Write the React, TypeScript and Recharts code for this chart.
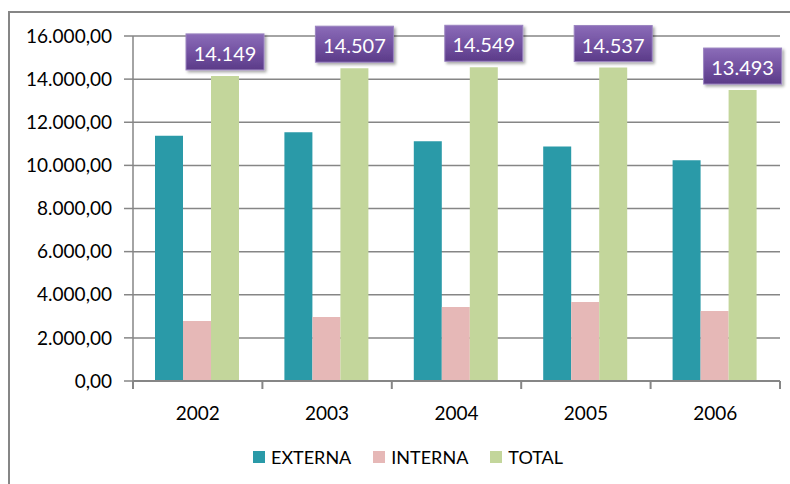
import React from "react";
import {
  BarChart,
  Bar,
  XAxis,
  YAxis,
  CartesianGrid,
  Legend,
  LabelList,
} from "recharts";

const years = ["2002", "2003", "2004", "2005", "2006"];
const externa = [11369, 11537, 11119, 10877, 10243];
const interna = [2780, 2970, 3430, 3660, 3250];
const total = [14149, 14507, 14549, 14537, 13493];
const yTicks = [0, 2000, 4000, 6000, 8000, 10000, 12000, 14000, 16000];

const data = years.map((y, i) => ({
  year: y,
  EXTERNA: externa[i],
  INTERNA: interna[i],
  TOTAL: total[i],
}));

const W = 790;
const H = 484;
const M = { top: 36, right: 10, bottom: 0, left: 0 };
const Y_W = 133;
const X_H = H - 381;
const BAND = (W - M.right - Y_W) / years.length;

const FONT = "Lato, 'Open Sans', sans-serif";
const GREY = "#868686";

const thousands = (n: number) =>
  Math.round(n)
    .toString()
    .replace(/\B(?=(\d{3})+(?!\d))/g, ".");
const fmtY = (v: number) => thousands(v) + ",00";

const XTick = (props: any) => {
  const { x, y, payload, index } = props;
  const half = BAND / 2;
  return (
    <g>
      <line x1={x - half} y1={y} x2={x - half} y2={y + 8} stroke={GREY} strokeWidth={2} />
      {index === years.length - 1 && (
        <line x1={x + half} y1={y} x2={x + half} y2={y + 8} stroke={GREY} strokeWidth={2} />
      )}
      <text
        x={x}
        y={y + 31}
        textAnchor="middle"
        dominantBaseline="central"
        fontFamily={FONT}
        fontSize={19}
        fill="#000"
      >
        {payload.value}
      </text>
    </g>
  );
};

const TotalLabel = (props: any) => {
  const { x, y, width, value } = props;
  const cx = x + width / 2;
  const bw = 78;
  const bh = 36;
  const by = y - 6 - bh;
  return (
    <g>
      <rect
        x={cx - bw / 2}
        y={by}
        width={bw}
        height={bh}
        fill="url(#purpleGrad)"
        stroke="#9b84c0"
        strokeWidth={1}
        filter="url(#boxShadow)"
      />
      <text
        x={cx}
        y={by + bh / 2 + 1}
        textAnchor="middle"
        dominantBaseline="central"
        fontFamily={FONT}
        fontSize={20}
        fill="#ffffff"
      >
        {thousands(value)}
      </text>
    </g>
  );
};

const LegendContent = (props: any) => {
  const { payload } = props;
  return (
    <div style={{ display: "flex", paddingLeft: 253, alignItems: "center", height: 24 }}>
      {(payload || []).map((p: any, i: number) => (
        <div
          key={i}
          style={{ display: "flex", alignItems: "center", marginRight: 22 }}
        >
          <div style={{ width: 12, height: 12, background: p.color, marginRight: 6 }} />
          <span style={{ fontFamily: FONT, fontSize: 18, color: "#000", lineHeight: "24px" }}>
            {p.value}
          </span>
        </div>
      ))}
    </div>
  );
};

export default function App() {
  return (
    <div style={{ position: "absolute", left: 0, top: 0, width: W, height: H, background: "#fff" }}>
      <div
        style={{
          position: "absolute",
          left: 8,
          top: 11,
          width: W,
          height: H,
          borderLeft: `2px solid ${GREY}`,
          borderTop: `2px solid ${GREY}`,
        }}
      />
      <div style={{ position: "absolute", left: 0, top: 0 }}>
        <BarChart
          width={W}
          height={H}
          data={data}
          margin={M}
          barGap={0}
          barCategoryGap={22}
        >
          <defs>
            <linearGradient id="purpleGrad" x1="0" y1="0" x2="0" y2="1">
              <stop offset="0%" stopColor="#8b6cb8" />
              <stop offset="55%" stopColor="#7150a0" />
              <stop offset="100%" stopColor="#5b3b88" />
            </linearGradient>
            <filter id="boxShadow" x="-20%" y="-20%" width="150%" height="160%">
              <feDropShadow dx="2" dy="2" stdDeviation="1.5" floodColor="#000" floodOpacity="0.35" />
            </filter>
          </defs>
          <CartesianGrid vertical={false} stroke={GREY} strokeWidth={1.5} />
          <XAxis
            dataKey="year"
            height={X_H}
            tickLine={false}
            tickSize={0}
            tickMargin={0}
            axisLine={{ stroke: GREY, strokeWidth: 2 }}
            tick={<XTick />}
            interval={0}
          />
          <YAxis
            width={Y_W}
            domain={[0, 16000]}
            ticks={yTicks}
            interval={0}
            tickFormatter={fmtY}
            tickSize={9}
            tickMargin={12}
            tickLine={{ stroke: GREY, strokeWidth: 1.5 }}
            axisLine={{ stroke: GREY, strokeWidth: 1.5 }}
            tick={{ fontFamily: FONT, fontSize: 19, fill: "#000" }}
          />
          <Legend
            layout="horizontal"
            verticalAlign="middle"
            align="center"
            wrapperStyle={{ top: 445, left: 0, width: W }}
            content={<LegendContent />}
          />
          <Bar dataKey="EXTERNA" fill="#2a9aa8" isAnimationActive={false} />
          <Bar dataKey="INTERNA" fill="#e6b8b7" isAnimationActive={false} />
          <Bar dataKey="TOTAL" fill="#c3d69b" isAnimationActive={false}>
            <LabelList dataKey="TOTAL" content={<TotalLabel />} />
          </Bar>
        </BarChart>
      </div>
    </div>
  );
}
